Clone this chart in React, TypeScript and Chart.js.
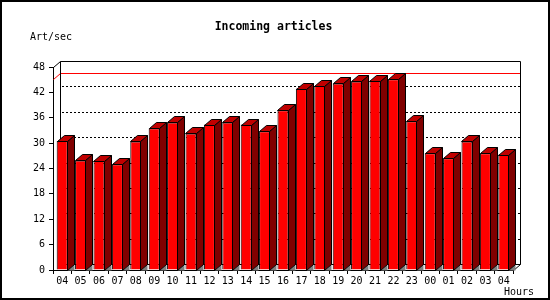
import React, { useEffect, useRef } from "react";
import { Chart, registerables } from "chart.js";

Chart.register(...registerables);

const hours = ["04", "05", "06", "07", "08", "09", "10", "11", "12", "13", "14", "15", "16", "17", "18", "19", "20", "21", "22", "23", "00", "01", "02", "03", "04"];
const artPerSec = [30.5, 25.9, 25.8, 25.0, 30.4, 33.5, 34.9, 32.3, 34.4, 34.9, 34.4, 32.8, 37.8, 42.9, 43.5, 44.1, 44.6, 44.8, 45.1, 35.2, 27.6, 26.4, 30.4, 27.6, 27.3];
const yMin = 0;
const yMax = 48;
const yStep = 6;
const titleText = "Incoming articles";
const yUnitText = "Art/sec";
const xUnitText = "Hours";

const DX = 7;
const DY = 6;
const MONO = "'DejaVu Sans Mono', monospace";

const threeD = {
  id: "threeD",
  beforeDatasetsDraw(chart: any) {
    const { ctx, chartArea: ca, scales } = chart;
    const y = scales.y;
    const L = Math.round(ca.left);
    const R = Math.round(ca.right);
    const T = Math.round(ca.top);
    const B = Math.round(ca.bottom);
    ctx.save();
    ctx.lineWidth = 1;
    // dotted grid on the back plane
    ctx.strokeStyle = "#000";
    ctx.setLineDash([2, 2]);
    y.ticks.forEach((t: any) => {
      if (t.value <= yMin || t.value >= yMax) return;
      const py = Math.round(y.getPixelForValue(t.value)) - DY + 0.5;
      ctx.beginPath();
      ctx.moveTo(L + DX + 2, py);
      ctx.lineTo(R + DX, py);
      ctx.stroke();
    });
    ctx.setLineDash([]);
    // max line
    const maxVal = Math.max(...artPerSec);
    const my = Math.round(y.getPixelForValue(maxVal));
    ctx.strokeStyle = "#ff0000";
    ctx.beginPath();
    ctx.moveTo(L + 0.5, my + 0.5);
    ctx.lineTo(L + DX + 0.5, my - DY + 0.5);
    ctx.lineTo(R + DX + 0.5, my - DY + 0.5);
    ctx.stroke();
    // back plane frame
    ctx.strokeStyle = "#000";
    ctx.beginPath();
    ctx.moveTo(L + 0.5, T + 0.5);
    ctx.lineTo(L + DX + 0.5, T - DY + 0.5);
    ctx.lineTo(R + DX + 0.5, T - DY + 0.5);
    ctx.lineTo(R + DX + 0.5, B - DY + 0.5);
    ctx.lineTo(R + 0.5, B + 0.5);
    ctx.moveTo(L + DX + 0.5, T - DY + 0.5);
    ctx.lineTo(L + DX + 0.5, B - DY + 0.5);
    ctx.lineTo(R + DX + 0.5, B - DY + 0.5);
    ctx.stroke();
    ctx.restore();
  },
  afterDatasetsDraw(chart: any) {
    const { ctx } = chart;
    const meta = chart.getDatasetMeta(0);
    ctx.save();
    ctx.lineWidth = 1;
    meta.data.forEach((bar: any) => {
      const p = bar.getProps(["x", "y", "base", "width"], true);
      const l = Math.round(p.x - p.width / 2);
      const r = Math.round(p.x + p.width / 2) - 1;
      const t = Math.round(p.y);
      const b = Math.round(p.base);
      // floor triangle
      ctx.fillStyle = "#808080";
      ctx.beginPath();
      ctx.moveTo(r + 0.5, b + 0.5);
      ctx.lineTo(r + DX + 0.5, b - DY + 0.5);
      ctx.lineTo(r + DX + 0.5, b + 0.5);
      ctx.closePath();
      ctx.fill();
      // side face
      ctx.fillStyle = "#800000";
      ctx.strokeStyle = "#000";
      ctx.beginPath();
      ctx.moveTo(r + 0.5, t + 0.5);
      ctx.lineTo(r + DX + 0.5, t - DY + 0.5);
      ctx.lineTo(r + DX + 0.5, b - DY + 0.5);
      ctx.lineTo(r + 0.5, b + 0.5);
      ctx.closePath();
      ctx.fill();
      ctx.stroke();
      // top face
      ctx.fillStyle = "#c00000";
      ctx.beginPath();
      ctx.moveTo(l + 0.5, t + 0.5);
      ctx.lineTo(l + DX + 0.5, t - DY + 0.5);
      ctx.lineTo(r + DX + 0.5, t - DY + 0.5);
      ctx.lineTo(r + 0.5, t + 0.5);
      ctx.closePath();
      ctx.fill();
      ctx.stroke();
    });
    ctx.restore();
  },
  afterDraw(chart: any) {
    const { ctx, width, height } = chart;
    ctx.save();
    ctx.fillStyle = "#000";
    ctx.textBaseline = "middle";
    ctx.font = `bold 11.5px ${MONO}`;
    ctx.textAlign = "center";
    ctx.fillText(titleText, 273.5, 27);
    ctx.font = `10px ${MONO}`;
    ctx.textAlign = "left";
    ctx.fillText(yUnitText, 30, 37);
    ctx.textAlign = "right";
    ctx.fillText(xUnitText, 534, 292);
    ctx.strokeStyle = "#000";
    ctx.lineWidth = 2;
    ctx.strokeRect(1, 1, width - 2, height - 2);
    ctx.restore();
  },
};

export default function App() {
  const ref = useRef<HTMLCanvasElement | null>(null);
  useEffect(() => {
    if (!ref.current) return;
    const chart = new Chart(ref.current, {
      type: "bar",
      data: {
        labels: hours,
        datasets: [
          {
            data: artPerSec,
            backgroundColor: "#ff0000",
            borderColor: "#000000",
            borderWidth: 1,
            barPercentage: 0.6,
            categoryPercentage: 1.0,
          },
        ],
      },
      options: {
        responsive: false,
        animation: false,
        devicePixelRatio: 1,
        layout: { padding: { left: 0, right: 37, top: 67, bottom: 0 } },
        plugins: { legend: { display: false }, tooltip: { enabled: false }, title: { display: false } },
        scales: {
          x: {
            type: "category",
            offset: true,
            grid: { offset: true, drawOnChartArea: false, drawTicks: true, tickLength: 4, color: "#000" },
            border: { display: true, color: "#000" },
            ticks: { font: { family: MONO, size: 10 }, color: "#000", padding: 1, maxRotation: 0, autoSkip: false },
            afterFit: (s: any) => {
              s.height = 30;
            },
          },
          y: {
            min: yMin,
            max: yMax,
            ticks: { stepSize: yStep, font: { family: MONO, size: 10 }, color: "#000", padding: 4 },
            grid: { drawOnChartArea: false, tickLength: 4, color: "#000" },
            border: { display: true, color: "#000" },
            afterFit: (s: any) => {
              s.width = 53;
            },
          },
        },
      },
      plugins: [threeD],
    });
    return () => chart.destroy();
  }, []);
  return (
    <div style={{ position: "absolute", left: 0, top: 0, width: 550, height: 300, background: "#fff" }}>
      <canvas ref={ref} width={550} height={300} style={{ display: "block" }} />
    </div>
  );
}
